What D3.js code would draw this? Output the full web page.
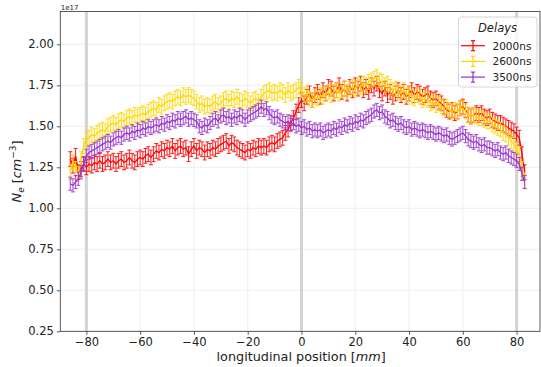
<!DOCTYPE html>
<html>
<head>
<meta charset="utf-8">
<script src="https://cdn.jsdelivr.net/npm/d3@7"></script>
<style>
  html, body { margin: 0; padding: 0; background: #fff; }
  svg { display: block; font-family: "DejaVu Sans", sans-serif; }
</style>
</head>
<body>
<svg id="chart" width="541" height="367"></svg>
<script>
// sampling positions along the axis (mm)
const positions = d3.range(-86, 84, 1);

// densities in units of 1e17 cm^-3, one value per position
const ne2000 = [
  1.30, 1.26, 1.32, 1.22, 1.24, 1.27, 1.25, 1.27, 1.26, 1.28,
  1.27, 1.29, 1.27, 1.28, 1.30, 1.28, 1.29, 1.27, 1.29, 1.30,
  1.28, 1.29, 1.31, 1.29, 1.28, 1.30, 1.31, 1.30, 1.32, 1.33,
  1.31, 1.33, 1.35, 1.34, 1.36, 1.35, 1.37, 1.36, 1.38, 1.35,
  1.37, 1.38, 1.36, 1.37, 1.33, 1.36, 1.38, 1.35, 1.37, 1.36,
  1.34, 1.36, 1.35, 1.37, 1.36, 1.38, 1.39, 1.40, 1.41, 1.38,
  1.40, 1.39, 1.37, 1.36, 1.35, 1.34, 1.36, 1.35, 1.37, 1.36,
  1.38, 1.37, 1.38, 1.37, 1.39, 1.40, 1.39, 1.41, 1.42, 1.43,
  1.46, 1.48, 1.52, 1.55, 1.59, 1.63, 1.66, 1.64, 1.68, 1.70,
  1.66, 1.69, 1.71, 1.68, 1.72, 1.70, 1.74, 1.73, 1.70, 1.72,
  1.75, 1.71, 1.73, 1.70, 1.74, 1.72, 1.75, 1.73, 1.76, 1.72,
  1.74, 1.71, 1.75, 1.73, 1.76, 1.72, 1.70, 1.73, 1.69, 1.71,
  1.68, 1.70, 1.72, 1.69, 1.71, 1.68, 1.70, 1.72, 1.69, 1.71,
  1.70, 1.68, 1.69, 1.70, 1.67, 1.66, 1.67, 1.65, 1.64, 1.62,
  1.60, 1.59, 1.60, 1.58, 1.59, 1.61, 1.62, 1.60, 1.57, 1.56,
  1.57, 1.58, 1.57, 1.58, 1.56, 1.55, 1.56, 1.54, 1.53, 1.52,
  1.52, 1.51, 1.50, 1.49, 1.48, 1.47, 1.45, 1.43, 1.33, 1.22
];
const ne2600 = [
  1.22, 1.28, 1.24, 1.21, 1.30, 1.38, 1.42, 1.43, 1.45, 1.44,
  1.46, 1.47, 1.48, 1.47, 1.50, 1.51, 1.52, 1.51, 1.53, 1.54,
  1.53, 1.55, 1.56, 1.55, 1.57, 1.56, 1.57, 1.58, 1.57, 1.59,
  1.60, 1.61, 1.60, 1.63, 1.62, 1.64, 1.65, 1.66, 1.65, 1.67,
  1.68, 1.67, 1.69, 1.68, 1.69, 1.68, 1.67, 1.65, 1.63, 1.64,
  1.62, 1.63, 1.62, 1.64, 1.65, 1.63, 1.64, 1.66, 1.67, 1.65,
  1.67, 1.66, 1.68, 1.66, 1.65, 1.67, 1.66, 1.64, 1.66, 1.67,
  1.65, 1.68, 1.70, 1.71, 1.72, 1.70, 1.71, 1.70, 1.72, 1.71,
  1.69, 1.72, 1.70, 1.71, 1.72, 1.74, 1.72, 1.69, 1.70, 1.67,
  1.66, 1.68, 1.67, 1.69, 1.68, 1.70, 1.71, 1.69, 1.71, 1.72,
  1.70, 1.72, 1.73, 1.71, 1.73, 1.74, 1.73, 1.75, 1.74, 1.76,
  1.75, 1.77, 1.78, 1.79, 1.80, 1.78, 1.77, 1.75, 1.76, 1.74,
  1.72, 1.73, 1.71, 1.70, 1.72, 1.69, 1.70, 1.68, 1.67, 1.69,
  1.68, 1.66, 1.67, 1.66, 1.64, 1.65, 1.63, 1.64, 1.62, 1.61,
  1.62, 1.60, 1.59, 1.60, 1.59, 1.61, 1.61, 1.59, 1.57, 1.56,
  1.57, 1.56, 1.55, 1.55, 1.54, 1.53, 1.53, 1.51, 1.50, 1.49,
  1.48, 1.46, 1.45, 1.43, 1.41, 1.39, 1.36, 1.33, 1.24, 1.17
];
const ne3500 = [
  1.15, 1.14, 1.16, 1.18, 1.22, 1.27, 1.32, 1.34, 1.35, 1.36,
  1.37, 1.38, 1.39, 1.40, 1.41, 1.40, 1.42, 1.43, 1.44, 1.43,
  1.45, 1.46, 1.45, 1.47, 1.46, 1.48, 1.47, 1.49, 1.48, 1.50,
  1.49, 1.50, 1.51, 1.50, 1.52, 1.51, 1.53, 1.52, 1.54, 1.53,
  1.55, 1.54, 1.55, 1.56, 1.54, 1.55, 1.54, 1.53, 1.50, 1.49,
  1.51, 1.50, 1.52, 1.54, 1.55, 1.53, 1.56, 1.57, 1.55, 1.56,
  1.54, 1.56, 1.55, 1.57, 1.56, 1.54, 1.56, 1.57, 1.58, 1.59,
  1.60, 1.62, 1.60, 1.61, 1.58, 1.56, 1.55, 1.56, 1.54, 1.53,
  1.52, 1.53, 1.51, 1.52, 1.50, 1.51, 1.49, 1.50, 1.48, 1.49,
  1.47, 1.48, 1.47, 1.48, 1.46, 1.47, 1.48, 1.47, 1.49, 1.48,
  1.50, 1.49, 1.51, 1.50, 1.52, 1.51, 1.53, 1.52, 1.54, 1.53,
  1.55, 1.56, 1.57, 1.59, 1.60, 1.58, 1.59, 1.56, 1.55, 1.53,
  1.54, 1.52, 1.51, 1.52, 1.50, 1.49, 1.50, 1.48, 1.49, 1.48,
  1.47, 1.48, 1.47, 1.46, 1.47, 1.46, 1.45, 1.46, 1.45, 1.44,
  1.45, 1.43, 1.42, 1.43, 1.44, 1.45, 1.46, 1.44, 1.42, 1.41,
  1.40, 1.41, 1.39, 1.38, 1.39, 1.37, 1.37, 1.36, 1.35, 1.36,
  1.34, 1.33, 1.34, 1.32, 1.31, 1.30, 1.29, 1.27, 1.21, 1.16
];

// uncertainty (same units), one per delay
const errors = [0.045, 0.045, 0.04];
const delays = ['2000ns', '2600ns', '3500ns'];
const colors = ['#ff0000', '#ffd700', '#9932cc'];
const seriesValues = [ne2000, ne2600, ne3500];

const xTicks = [-80, -60, -40, -20, 0, 20, 40, 60, 80];
const yTicks = [0.25, 0.50, 0.75, 1.00, 1.25, 1.50, 1.75, 2.00];
const markerLines = [-80, 0, 80];

const svg = d3.select('#chart');
const plotL = 60.3, plotR = 540, plotT = 11.5, plotB = 331.3;

const x = d3.scaleLinear().domain([-89.7, 88.7]).range([plotL, plotR]);
const y = d3.scaleLinear().domain([0.25, 2.2]).range([plotB, plotT]);

// Gitter
const grid = svg.append('g');
grid.selectAll('line.gx').data(xTicks).enter().append('line')
  .attr('x1', d => x(d)).attr('x2', d => x(d))
  .attr('y1', plotT).attr('y2', plotB)
  .attr('stroke', '#ebebeb').attr('stroke-width', 0.8);
grid.selectAll('line.gy').data(yTicks).enter().append('line')
  .attr('x1', plotL).attr('x2', plotR)
  .attr('y1', d => y(d)).attr('y2', d => y(d))
  .attr('stroke', '#ebebeb').attr('stroke-width', 0.8);

// vertical markers
svg.append('g').selectAll('line').data(markerLines).enter().append('line')
  .attr('x1', d => x(d)).attr('x2', d => x(d))
  .attr('y1', plotT).attr('y2', plotB)
  .attr('stroke', '#d3d3d3').attr('stroke-width', 3);

// series with error bars
const plot = svg.append('g');
seriesValues.forEach((vals, i) => {
  const pts = positions.map((p, k) => ({ p, v: vals[k], e: errors[i] }));
  const g = plot.append('g');
  const bars = g.append('g').attr('stroke', colors[i]).attr('stroke-width', 1).attr('opacity', 0.9);
  bars.selectAll('line.eb').data(pts).enter().append('line')
    .attr('x1', d => x(d.p)).attr('x2', d => x(d.p))
    .attr('y1', d => y(d.v - d.e)).attr('y2', d => y(d.v + d.e));
  bars.selectAll('line.ct').data(pts).enter().append('line')
    .attr('x1', d => x(d.p) - 2).attr('x2', d => x(d.p) + 2)
    .attr('y1', d => y(d.v + d.e)).attr('y2', d => y(d.v + d.e));
  bars.selectAll('line.cb').data(pts).enter().append('line')
    .attr('x1', d => x(d.p) - 2).attr('x2', d => x(d.p) + 2)
    .attr('y1', d => y(d.v - d.e)).attr('y2', d => y(d.v - d.e));
  g.append('path')
    .datum(pts)
    .attr('fill', 'none')
    .attr('stroke', colors[i])
    .attr('stroke-width', 1.3)
    .attr('d', d3.line().x(d => x(d.p)).y(d => y(d.v)));
});

// axes
const xAxis = svg.append('g').attr('transform', `translate(0,${plotB})`)
  .call(d3.axisBottom(x).tickValues(xTicks).tickSize(3.5).tickPadding(3)
    .tickFormat(d => d < 0 ? '\u2212' + Math.abs(d) : d));
const yAxis = svg.append('g').attr('transform', `translate(${plotL},0)`)
  .call(d3.axisLeft(y).tickValues(yTicks).tickSize(3.5).tickPadding(3)
    .tickFormat(d3.format('.2f')));
[xAxis, yAxis].forEach(a => {
  a.select('.domain').remove();
  a.selectAll('text').attr('font-size', 11.5).attr('font-family', 'DejaVu Sans').attr('fill', '#222');
  a.selectAll('line').attr('stroke', '#333').attr('stroke-width', 0.8);
});

// frame
svg.append('rect')
  .attr('x', plotL).attr('y', plotT)
  .attr('width', plotR - plotL).attr('height', plotB - plotT)
  .attr('fill', 'none').attr('stroke', '#333').attr('stroke-width', 0.8);

// offset text
svg.append('text').attr('x', plotL + 0.5).attr('y', 9.5)
  .attr('font-size', 7).attr('fill', '#222').text('1e17');

// axis labels
const xl = svg.append('text')
  .attr('x', (plotL + plotR) / 2 + 1).attr('y', 361)
  .attr('text-anchor', 'middle').attr('font-size', 12.8).attr('fill', '#222');
xl.append('tspan').text('longitudinal position [');
xl.append('tspan').attr('font-style', 'italic').text('mm');
xl.append('tspan').text(']');

const yl = svg.append('text')
  .attr('transform', `translate(21,${(plotT + plotB) / 2}) rotate(-90)`)
  .attr('text-anchor', 'middle').attr('font-size', 12.8).attr('fill', '#222');
yl.append('tspan').attr('font-style', 'italic').text('N');
yl.append('tspan').attr('font-style', 'italic').attr('font-size', 9).attr('dy', 3).text('e');
yl.append('tspan').attr('dy', -3).text(' [');
yl.append('tspan').attr('font-style', 'italic').text('cm');
yl.append('tspan').attr('font-size', 9).attr('dy', -5).text('\u22123');
yl.append('tspan').attr('dy', 5).text(']');

// legend
const lg = svg.append('g');
lg.append('rect')
  .attr('x', 458.5).attr('y', 17).attr('width', 78.5).attr('height', 70)
  .attr('rx', 3).attr('fill', 'white').attr('fill-opacity', 0.8)
  .attr('stroke', '#cccccc').attr('stroke-width', 0.8);
lg.append('text').attr('x', 497.5).attr('y', 32)
  .attr('text-anchor', 'middle').attr('font-size', 11.5).attr('font-style', 'italic')
  .attr('fill', '#222').text('Delays');
delays.forEach((name, i) => {
  const cy = 45.7 + i * 15.7;
  const row = lg.append('g').attr('stroke', colors[i]).attr('stroke-width', 1.2);
  row.append('line').attr('x1', 461).attr('x2', 485).attr('y1', cy).attr('y2', cy);
  row.append('line').attr('x1', 473).attr('x2', 473).attr('y1', cy - 5).attr('y2', cy + 5);
  row.append('line').attr('x1', 471).attr('x2', 475).attr('y1', cy - 5).attr('y2', cy - 5);
  row.append('line').attr('x1', 471).attr('x2', 475).attr('y1', cy + 5).attr('y2', cy + 5);
  lg.append('text').attr('x', 492.5).attr('y', cy + 3.8)
    .attr('font-size', 10.5).attr('fill', '#222').text(name);
});
</script>
</body>
</html>
